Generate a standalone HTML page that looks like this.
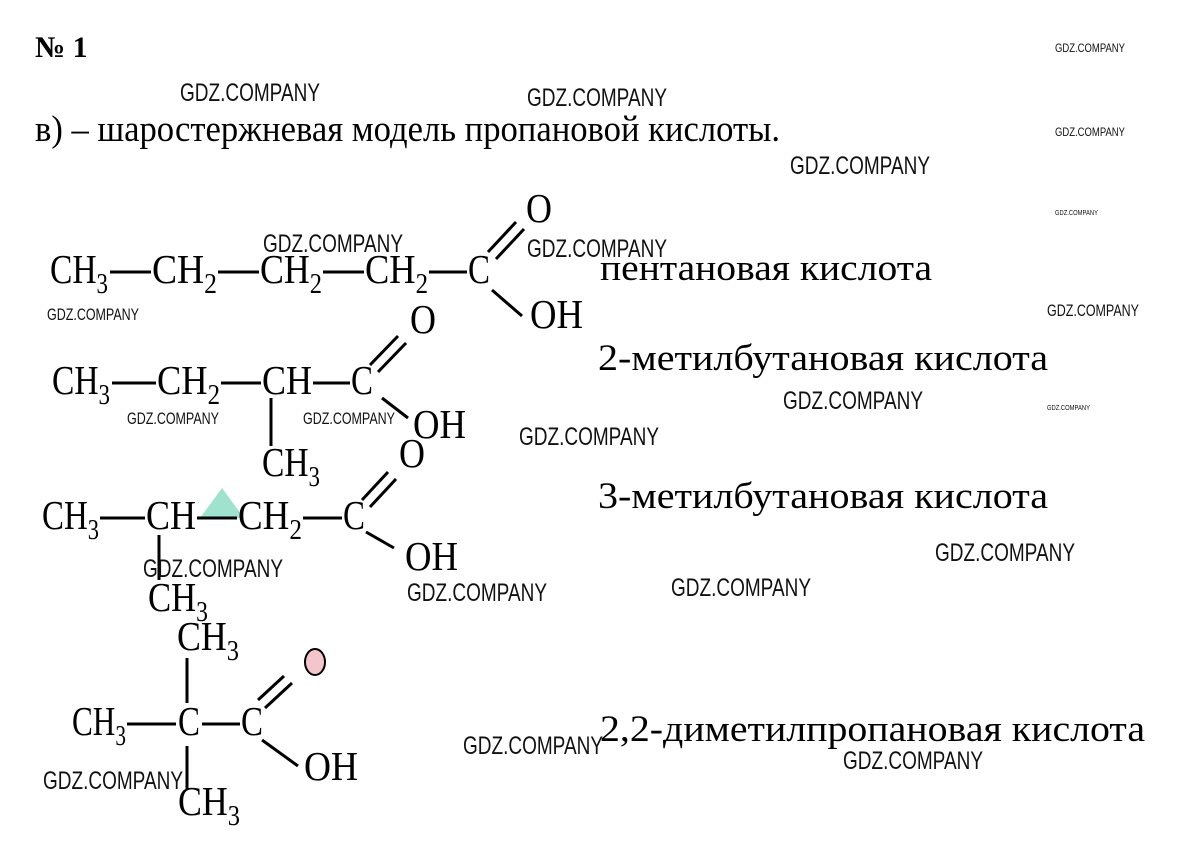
<!DOCTYPE html>
<html><head><meta charset="utf-8"><style>
html,body{margin:0;padding:0;background:#fff;}
svg{display:block;}
.f{font-family:"Liberation Serif",serif;font-size:41px;fill:#000;}
.s{font-size:28px;}
.w{font-family:"Liberation Sans",sans-serif;fill:#111;font-weight:normal;}
.l{font-family:"Liberation Serif",serif;font-size:37px;fill:#000;}
line{stroke:#000;stroke-width:3;}
</style></head><body>
<svg width="1204" height="867" viewBox="0 0 1204 867" xmlns="http://www.w3.org/2000/svg">
<text x="35" y="57" font-family="Liberation Serif" font-weight="bold" font-size="30">№ 1</text>
<text x="35" y="141" class="l" font-size="31" textLength="745" lengthAdjust="spacingAndGlyphs">в) – шаростержневая модель пропановой кислоты.</text>

<!-- Row 1 -->
<text x="50" y="283" class="f" textLength="58" lengthAdjust="spacingAndGlyphs">CH<tspan class="s" dy="10">3</tspan></text>
<line x1="110" y1="272" x2="151" y2="272"/>
<text x="152" y="283" class="f" textLength="65" lengthAdjust="spacingAndGlyphs">CH<tspan class="s" dy="10">2</tspan></text>
<line x1="218" y1="272" x2="259" y2="272"/>
<text x="260" y="283" class="f" textLength="62" lengthAdjust="spacingAndGlyphs">CH<tspan class="s" dy="10">2</tspan></text>
<line x1="323" y1="272" x2="364" y2="272"/>
<text x="365" y="283" class="f" textLength="63" lengthAdjust="spacingAndGlyphs">CH<tspan class="s" dy="10">2</tspan></text>
<line x1="429" y1="272" x2="467" y2="272"/>
<text x="468" y="283" class="f" textLength="22" lengthAdjust="spacingAndGlyphs">C</text>
<line x1="488" y1="252" x2="516" y2="222"/><line x1="496" y1="259" x2="524" y2="229"/>
<line x1="492" y1="290" x2="522" y2="316"/>
<text x="526" y="222" class="f" textLength="26" lengthAdjust="spacingAndGlyphs">O</text>
<text x="530" y="328" class="f" textLength="53" lengthAdjust="spacingAndGlyphs">OH</text>
<text x="600" y="280" class="l" textLength="332" lengthAdjust="spacingAndGlyphs">пентановая кислота</text>

<!-- Row 2 -->
<text x="52" y="394" class="f" textLength="58" lengthAdjust="spacingAndGlyphs">CH<tspan class="s" dy="10">3</tspan></text>
<line x1="112" y1="383" x2="156" y2="383"/>
<text x="157" y="394" class="f" textLength="63" lengthAdjust="spacingAndGlyphs">CH<tspan class="s" dy="10">2</tspan></text>
<line x1="221" y1="383" x2="261" y2="383"/>
<text x="262" y="394" class="f" textLength="50" lengthAdjust="spacingAndGlyphs">CH</text>
<line x1="313" y1="383" x2="350" y2="383"/>
<text x="351" y="394" class="f" textLength="22" lengthAdjust="spacingAndGlyphs">C</text>
<line x1="271" y1="398" x2="271" y2="446"/>
<text x="262" y="476" class="f" textLength="58" lengthAdjust="spacingAndGlyphs">CH<tspan class="s" dy="10">3</tspan></text>
<line x1="370" y1="365" x2="398" y2="336"/><line x1="378" y1="372" x2="406" y2="343"/>
<line x1="382" y1="398" x2="408" y2="418"/>
<text x="410" y="333" class="f" textLength="26" lengthAdjust="spacingAndGlyphs">O</text>
<text x="413" y="438" class="f" textLength="53" lengthAdjust="spacingAndGlyphs">OH</text>
<text x="598" y="370" class="l" textLength="450" lengthAdjust="spacingAndGlyphs">2-метилбутановая кислота</text>

<!-- Row 3 -->
<polygon points="200,518 222,488 244,518" fill="#9fe3cf"/>
<text x="42" y="529" class="f" textLength="57" lengthAdjust="spacingAndGlyphs">CH<tspan class="s" dy="10">3</tspan></text>
<line x1="100" y1="518" x2="145" y2="518"/>
<text x="146" y="529" class="f" textLength="50" lengthAdjust="spacingAndGlyphs">CH</text>
<line x1="197" y1="518" x2="237" y2="518"/>
<text x="238" y="529" class="f" textLength="64" lengthAdjust="spacingAndGlyphs">CH<tspan class="s" dy="10">2</tspan></text>
<line x1="303" y1="518" x2="342" y2="518"/>
<text x="343" y="529" class="f" textLength="22" lengthAdjust="spacingAndGlyphs">C</text>
<line x1="159" y1="535" x2="159" y2="580"/>
<text x="148" y="611" class="f" textLength="60" lengthAdjust="spacingAndGlyphs">CH<tspan class="s" dy="10">3</tspan></text>
<line x1="362" y1="500" x2="388" y2="472"/><line x1="370" y1="507" x2="396" y2="479"/>
<line x1="366" y1="532" x2="394" y2="548"/>
<text x="399" y="467" class="f" textLength="26" lengthAdjust="spacingAndGlyphs">O</text>
<text x="405" y="570" class="f" textLength="53" lengthAdjust="spacingAndGlyphs">OH</text>
<text x="598" y="508" class="l" textLength="450" lengthAdjust="spacingAndGlyphs">3-метилбутановая кислота</text>

<!-- Row 4 -->
<text x="177" y="650" class="f" textLength="62" lengthAdjust="spacingAndGlyphs">CH<tspan class="s" dy="10">3</tspan></text>
<line x1="187" y1="658" x2="187" y2="703"/>
<text x="72" y="735" class="f" textLength="54" lengthAdjust="spacingAndGlyphs">CH<tspan class="s" dy="10">3</tspan></text>
<line x1="127" y1="724" x2="176" y2="724"/>
<text x="178" y="735" class="f" textLength="22" lengthAdjust="spacingAndGlyphs">C</text>
<line x1="202" y1="724" x2="240" y2="724"/>
<text x="241" y="735" class="f" textLength="22" lengthAdjust="spacingAndGlyphs">C</text>
<line x1="187" y1="746" x2="187" y2="790"/>
<text x="178" y="815" class="f" textLength="62" lengthAdjust="spacingAndGlyphs">CH<tspan class="s" dy="10">3</tspan></text>
<line x1="258" y1="700" x2="284" y2="676"/><line x1="265" y1="708" x2="292" y2="683"/>
<line x1="262" y1="740" x2="298" y2="766"/>
<ellipse cx="315" cy="662" rx="10" ry="13" fill="#f5c5cc" stroke="#000" stroke-width="2"/>
<text x="304" y="780" class="f" textLength="54" lengthAdjust="spacingAndGlyphs">OH</text>
<text x="600" y="741" class="l" textLength="545" lengthAdjust="spacingAndGlyphs">2,2-диметилпропановая кислота</text>

<!-- watermarks -->
<g class="w">
<text x="180" y="101" font-size="25" textLength="140" lengthAdjust="spacingAndGlyphs">GDZ.COMPANY</text>
<text x="527" y="106" font-size="25" textLength="140" lengthAdjust="spacingAndGlyphs">GDZ.COMPANY</text>
<text x="790" y="174" font-size="25" textLength="140" lengthAdjust="spacingAndGlyphs">GDZ.COMPANY</text>
<text x="263" y="252" font-size="25" textLength="140" lengthAdjust="spacingAndGlyphs">GDZ.COMPANY</text>
<text x="527" y="257" font-size="25" textLength="140" lengthAdjust="spacingAndGlyphs">GDZ.COMPANY</text>
<text x="47" y="320" font-size="17" textLength="92" lengthAdjust="spacingAndGlyphs">GDZ.COMPANY</text>
<text x="127" y="424" font-size="17" textLength="92" lengthAdjust="spacingAndGlyphs">GDZ.COMPANY</text>
<text x="303" y="424" font-size="17" textLength="92" lengthAdjust="spacingAndGlyphs">GDZ.COMPANY</text>
<text x="783" y="409" font-size="25" textLength="140" lengthAdjust="spacingAndGlyphs">GDZ.COMPANY</text>
<text x="519" y="445" font-size="25" textLength="140" lengthAdjust="spacingAndGlyphs">GDZ.COMPANY</text>
<text x="143" y="577" font-size="25" textLength="140" lengthAdjust="spacingAndGlyphs">GDZ.COMPANY</text>
<text x="407" y="601" font-size="25" textLength="140" lengthAdjust="spacingAndGlyphs">GDZ.COMPANY</text>
<text x="671" y="596" font-size="25" textLength="140" lengthAdjust="spacingAndGlyphs">GDZ.COMPANY</text>
<text x="935" y="561" font-size="25" textLength="140" lengthAdjust="spacingAndGlyphs">GDZ.COMPANY</text>
<text x="463" y="754" font-size="25" textLength="140" lengthAdjust="spacingAndGlyphs">GDZ.COMPANY</text>
<text x="843" y="769" font-size="25" textLength="140" lengthAdjust="spacingAndGlyphs">GDZ.COMPANY</text>
<text x="43" y="789" font-size="25" textLength="140" lengthAdjust="spacingAndGlyphs">GDZ.COMPANY</text>
<text x="1055" y="52" font-size="12" textLength="70" lengthAdjust="spacingAndGlyphs">GDZ.COMPANY</text>
<text x="1055" y="136" font-size="12" textLength="70" lengthAdjust="spacingAndGlyphs">GDZ.COMPANY</text>
<text x="1055" y="215" font-size="7" textLength="43" lengthAdjust="spacingAndGlyphs">GDZ.COMPANY</text>
<text x="1047" y="316" font-size="17" textLength="92" lengthAdjust="spacingAndGlyphs">GDZ.COMPANY</text>
<text x="1047" y="410" font-size="7" textLength="43" lengthAdjust="spacingAndGlyphs">GDZ.COMPANY</text>
</g>
</svg>
</body></html>
